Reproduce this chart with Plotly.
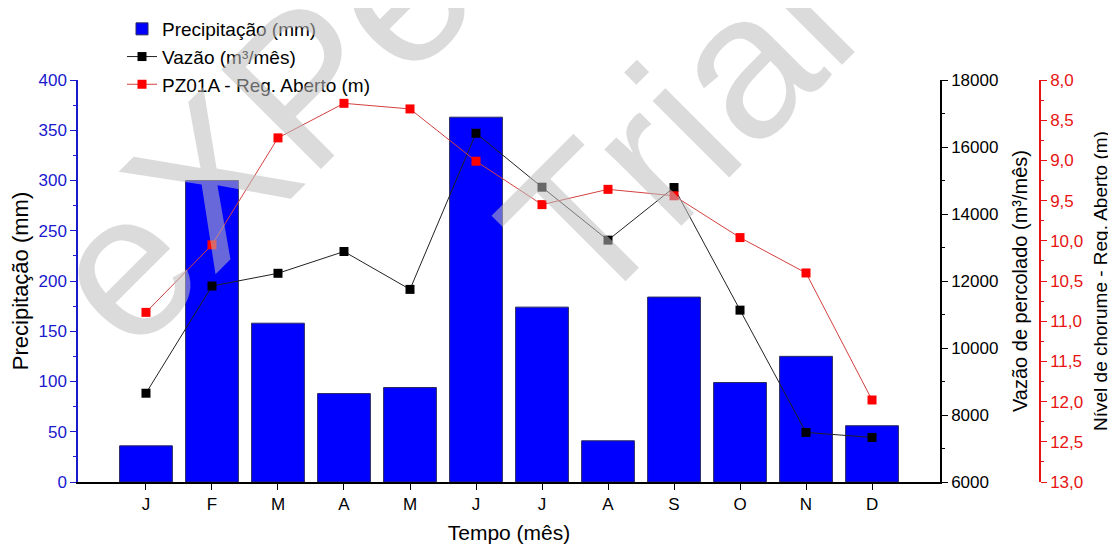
import plotly.graph_objects as go

months = ["J", "F", "M", "A", "M", "J", "J", "A", "S", "O", "N", "D"]
month_pos = [1, 2, 3, 4, 5, 6, 7, 8, 9, 10, 11, 12]
precip_mm = [36, 300, 158, 88, 94, 363, 174, 41, 184, 99, 125, 56]
vazao_m3 = [8650, 11850, 12230, 12880, 11750, 16410, 14800, 13220, 14790, 11130, 7480, 7330]
nivel_m = [10.89, 10.05, 8.72, 8.29, 8.36, 9.01, 9.55, 9.36, 9.44, 9.96, 10.40, 11.98]

FONT = "Arial, 'Liberation Sans', sans-serif"
BLUE_AX = "rgb(25,25,205)"
RED_AX = "rgb(230,20,20)"

# the page body has an 8px margin; work in window pixels and shift
OFF = 8
W, H = 1116 - OFF, 545 - OFF
plot_left, plot_top, plot_bottom, paper_right = 78, 80, 482, 1076
L = plot_left - OFF
T = plot_top - OFF
B = H - (plot_bottom - OFF)
R = W - (paper_right - OFF)
PW = W - L - R
PH = H - T - B
ax_right_px = 940
red_ax_px = 1040


def px2paper_x(px):
    return (px - OFF - L) / PW


def px2paper_y(py):
    return (H - B - (py - OFF)) / PH


fig = go.Figure()
fig.add_trace(go.Bar(
    x=month_pos, y=precip_mm, name="Precipitação (mm)", width=0.8,
    marker=dict(color="#0000FF", line=dict(color="#2a2a60", width=1)),
    yaxis="y",
))
fig.add_trace(go.Scatter(
    x=month_pos, y=vazao_m3, name="Vazão (m³/mês)", mode="lines+markers",
    line=dict(color="#222222", width=1),
    marker=dict(symbol="square", size=9, color="#000000"),
    yaxis="y2",
))
fig.add_trace(go.Scatter(
    x=month_pos, y=nivel_m, name="PZ01A - Reg. Aberto (m)", mode="lines+markers",
    line=dict(color="#D44040", width=1),
    marker=dict(symbol="square", size=9, color="#FF0000"),
    yaxis="y3",
))

x_dom_end = px2paper_x(ax_right_px)

fig.update_layout(
    width=W, height=H,
    margin=dict(l=L, r=R, t=T, b=B, autoexpand=False),
    paper_bgcolor="white", plot_bgcolor="white",
    separators=",.",
    font=dict(family=FONT, size=17, color="black"),
    showlegend=True,
    legend=dict(
        x=px2paper_x(122), y=px2paper_y(10), xanchor="left", yanchor="top",
        bgcolor="rgba(0,0,0,0)", font=dict(size=19, color="black"),
        traceorder="normal", tracegroupgap=0,
    ),
    bargap=0.2,
    xaxis=dict(
        domain=[0, x_dom_end], range=[-0.03, 13.03],
        tickmode="array", tickvals=month_pos, ticktext=months,
        ticks="outside", ticklen=6, tickwidth=1.2, tickcolor="black",
        showline=True, linecolor="black", linewidth=1.5,
        showgrid=False, zeroline=False,
        tickfont=dict(size=17, color="black"),
        title=dict(text="Tempo (mês)", font=dict(size=21), standoff=12),
    ),
    yaxis=dict(
        range=[0, 400], dtick=50, tick0=0,
        ticks="outside", ticklen=6, tickwidth=1.2, tickcolor=BLUE_AX,
        minor=dict(dtick=25, ticks="outside", ticklen=3, tickcolor=BLUE_AX),
        showline=True, linecolor=BLUE_AX, linewidth=1.5,
        showgrid=False, zeroline=False,
        tickfont=dict(size=17, color=BLUE_AX),
        title=dict(text="Precipitação (mm)", font=dict(size=22), standoff=6),
    ),
    yaxis2=dict(
        overlaying="y", side="right", anchor="x",
        range=[6000, 18000], dtick=2000, tick0=6000, tickformat="d",
        ticks="outside", ticklen=6, tickwidth=1.2, tickcolor="black",
        minor=dict(dtick=1000, ticks="outside", ticklen=3, tickcolor="black"),
        showline=True, linecolor="black", linewidth=1.5,
        showgrid=False, zeroline=False,
        tickfont=dict(size=17, color="black"),
        title=dict(text="Vazão de percolado (m³/mês)", font=dict(size=20), standoff=16),
    ),
    yaxis3=dict(
        overlaying="y", side="right", anchor="free",
        position=px2paper_x(red_ax_px),
        range=[13, 8], dtick=0.5, tick0=8, tickformat=".1f",
        ticks="outside", ticklen=6, tickwidth=1.2, tickcolor=RED_AX,
        minor=dict(dtick=0.25, ticks="outside", ticklen=3, tickcolor=RED_AX),
        showline=True, linecolor=RED_AX, linewidth=1.5,
        showgrid=False, zeroline=False,
        tickfont=dict(size=17, color=RED_AX),
        title=dict(text="Nível de chorume - Reg. Aberto (m)", font=dict(size=19), standoff=10),
    ),
)

# trial watermark overlay
wm = dict(xref="paper", yref="paper", showarrow=False, textangle=-45,
          xanchor="center", yanchor="middle",
          font=dict(family=FONT, size=205, color="rgba(190,190,190,0.55)"))
fig.add_annotation(text="eXPert", x=px2paper_x(302), y=px2paper_y(86), **wm)
fig.add_annotation(text="Trial", x=px2paper_x(675), y=px2paper_y(130), **wm)

fig.write_html("out.html")
